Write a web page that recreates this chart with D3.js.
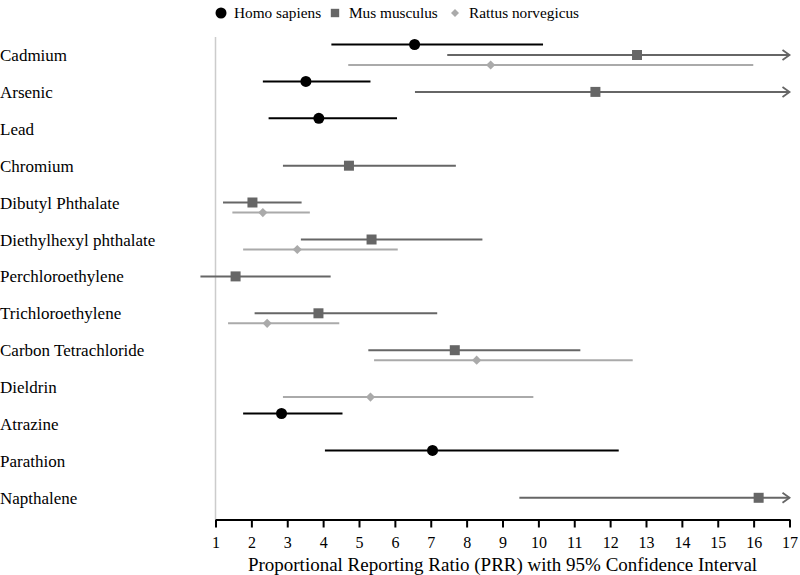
<!DOCTYPE html>
<html>
<head>
<meta charset="utf-8">
<script src="https://cdn.jsdelivr.net/npm/d3@7"></script>
<style>
  body { margin: 0; background: #fff; }
  svg { display: block; font-family: "Liberation Serif", "Times New Roman", serif; }
</style>
</head>
<body>
<svg id="chart" width="800" height="575"></svg>
<script>
// ---- Data ----
const categories = ["Cadmium", "Arsenic", "Lead", "Chromium", "Dibutyl Phthalate",
  "Diethylhexyl phthalate", "Perchloroethylene", "Trichloroethylene",
  "Carbon Tetrachloride", "Dieldrin", "Atrazine", "Parathion", "Napthalene"];
const seriesNames = ["Homo sapiens", "Mus musculus", "Rattus norvegicus"];

// Infinity = upper CI bound runs past the end of the axis (drawn as arrow)
const homoPRR   = [6.55, 3.52, 3.88, null, null, null, null, null, null, null, 2.84, 7.05, null];
const homoLower = [4.23, 2.32, 2.48, null, null, null, null, null, null, null, 1.77, 4.05, null];
const homoUpper = [10.13, 5.32, 6.06, null, null, null, null, null, null, null, 4.54, 12.24, null];

const musPRR   = [12.75, 11.59, null, 4.72, 2.03, 5.35, 1.56, 3.87, 7.67, null, null, null, 16.14];
const musLower = [7.46, 6.56, null, 2.88, 1.21, 3.38, 0.58, 2.09, 5.26, null, null, null, 9.47];
const musUpper = [Infinity, Infinity, null, 7.70, 3.40, 8.44, 4.21, 7.18, 11.17, null, null, null, Infinity];

const ratPRR   = [8.67, null, null, null, 2.32, 3.28, null, 2.44, 8.28, 5.32, null, null, null];
const ratLower = [4.70, null, null, null, 1.47, 1.77, null, 1.35, 5.42, 2.88, null, null, null];
const ratUpper = [15.99, null, null, null, 3.63, 6.08, null, 4.45, 12.63, 9.86, null, null, null];

const xTicks = d3.range(1, 18);
const xTitle = "Proportional Reporting Ratio (PRR) with 95% Confidence Interval";

// ---- Styles ----
const seriesColors = ["#000000", "#666666", "#aaaaaa"];
const seriesOffsets = [-10.5, 0, 10];
const seriesShapes = ["circle", "square", "diamond"];

const series = [
  { prr: homoPRR, lo: homoLower, hi: homoUpper },
  { prr: musPRR, lo: musLower, hi: musUpper },
  { prr: ratPRR, lo: ratLower, hi: ratUpper }
];

const svg = d3.select("#chart");
const x = d3.scaleLinear().domain([1, 17]).range([215.5, 789.5]);
const y = d3.scalePoint().domain(categories).range([55, 497.8]);
const axisY = 519.5;

// vertical reference line at PRR = 1
svg.append("line")
  .attr("x1", x(1)).attr("x2", x(1))
  .attr("y1", 37).attr("y2", axisY)
  .attr("stroke", "#cccccc").attr("stroke-width", 1.5);

// category labels
svg.append("g").selectAll("text").data(categories).join("text")
  .attr("x", 0).attr("y", d => y(d) + 6)
  .attr("font-size", 17).attr("fill", "#000")
  .text(d => d);

// x axis
const xAxis = d3.axisBottom(x).tickValues(xTicks).tickSize(8).tickSizeOuter(0).tickPadding(9);
const gx = svg.append("g").attr("transform", `translate(0,${axisY})`).call(xAxis);
gx.select(".domain").attr("stroke", "#000").attr("stroke-width", 2);
gx.selectAll(".tick line").attr("stroke", "#000").attr("stroke-width", 2);
gx.selectAll(".tick text").attr("font-size", 16).attr("fill", "#000")
  .attr("font-family", "Liberation Serif, Times New Roman, serif");

svg.append("text")
  .attr("x", (x(1) + x(17)) / 2).attr("y", 571)
  .attr("text-anchor", "middle").attr("font-size", 19)
  .text(xTitle);

function symbolPath(shape, cx, cy, h) {
  if (shape === "square") return `M${cx-h},${cy-h}h${2*h}v${2*h}h${-2*h}Z`;
  return `M${cx},${cy-h}L${cx+h},${cy}L${cx},${cy+h}L${cx-h},${cy}Z`;
}

function drawMarker(g, shape, cx, cy, color, size) {
  if (shape === "circle") {
    g.append("circle").attr("cx", cx).attr("cy", cy).attr("r", size).attr("fill", color);
  } else {
    g.append("path").attr("d", symbolPath(shape, cx, cy, size)).attr("fill", color);
  }
}
const plotSizes = [5.5, 5, 4.6];
const legendSizes = [5.5, 4.2, 4];

// error bars + markers
const gPlot = svg.append("g");
series.forEach((s, si) => {
  const color = seriesColors[si];
  categories.forEach((c, i) => {
    if (s.prr[i] == null) return;
    const cy = y(c) + seriesOffsets[si];
    const open = !isFinite(s.hi[i]);
    const xEnd = open ? x(x.domain()[1]) : x(s.hi[i]);
    gPlot.append("line")
      .attr("x1", x(s.lo[i])).attr("x2", xEnd)
      .attr("y1", cy).attr("y2", cy)
      .attr("stroke", color).attr("stroke-width", 2);
    if (open) {
      gPlot.append("path")
        .attr("d", `M${xEnd-7},${cy-5}L${xEnd},${cy}L${xEnd-7},${cy+5}`)
        .attr("fill", "none").attr("stroke", color).attr("stroke-width", 1.8);
    }
    drawMarker(gPlot, seriesShapes[si], x(s.prr[i]), cy, color, plotSizes[si]);
  });
});

// legend
const legendItems = [
  { sx: 221, tx: 234 },
  { sx: 335, tx: 349 },
  { sx: 455, tx: 469 }
];
const gLeg = svg.append("g");
seriesNames.forEach((name, i) => {
  const ly = 13;
  drawMarker(gLeg, seriesShapes[i], legendItems[i].sx, ly, seriesColors[i], legendSizes[i]);
  gLeg.append("text").attr("x", legendItems[i].tx).attr("y", ly + 5)
    .attr("font-size", 15.3).text(name);
});
</script>
</body>
</html>
